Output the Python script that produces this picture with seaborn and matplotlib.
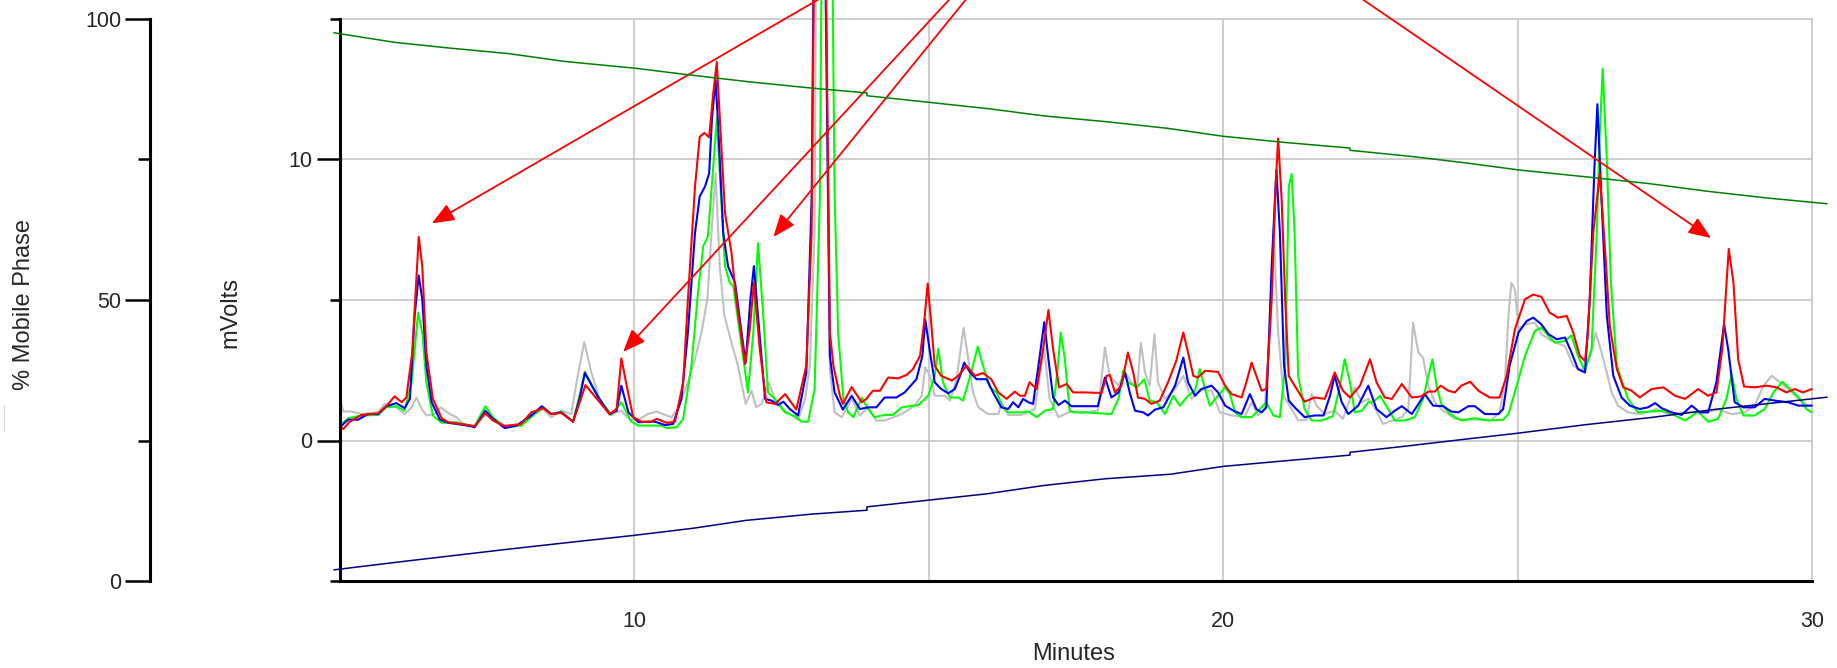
import matplotlib
matplotlib.use("Agg")
import matplotlib.pyplot as plt
import seaborn as sns
from matplotlib.lines import Line2D

sns.set_style("white")
plt.rcParams['font.family'] = ['Liberation Sans', 'DejaVu Sans']

# ---------------- data ----------------
red_t = [5.00, 5.06, 5.17, 5.37, 5.65, 5.79, 5.93, 6.05, 6.13, 6.23, 6.34, 6.40, 6.47, 6.58, 6.73, 6.84,
         7.18, 7.29, 7.47, 7.60, 7.80, 8.08, 8.25, 8.45, 8.59, 8.76, 8.96, 9.08, 9.17, 9.39, 9.58, 9.70,
         9.78, 9.87, 9.98, 10.12, 10.29, 10.38, 10.55, 10.69, 10.83, 10.91, 11.03, 11.11, 11.19, 11.27,
         11.34, 11.40, 11.45, 11.54, 11.65, 11.73, 11.88, 11.96, 12.03, 12.13, 12.24, 12.39, 12.56, 12.75,
         12.92, 13.01, 13.14, 13.32, 13.38, 13.49, 13.54, 13.69, 13.86, 13.94, 14.05, 14.17, 14.31, 14.48,
         14.62, 14.73, 14.85, 14.92, 14.98, 15.03, 15.10, 15.21, 15.39, 15.50, 15.64, 15.78, 15.92, 16.06,
         16.18, 16.32, 16.46, 16.55, 16.63, 16.71, 16.83, 16.94, 17.03, 17.11, 17.21, 17.34, 17.45, 17.65,
         17.93, 18.02, 18.07, 18.16, 18.27, 18.38, 18.47, 18.55, 18.67, 18.78, 18.92, 19.06, 19.20, 19.32,
         19.40, 19.49, 19.57, 19.69, 19.91, 20.03, 20.14, 20.31, 20.39, 20.48, 20.56, 20.65, 20.73, 20.82,
         20.89, 20.93, 20.99, 21.05, 21.11, 21.21, 21.38, 21.55, 21.72, 21.81, 21.89, 22.03, 22.15, 22.32,
         22.49, 22.60, 22.74, 22.86, 23.03, 23.20, 23.36, 23.48, 23.59, 23.69, 23.82, 23.93, 24.04, 24.19,
         24.33, 24.52, 24.69, 24.81, 24.95, 25.12, 25.26, 25.40, 25.54, 25.68, 25.83, 25.94, 26.05, 26.14,
         26.19, 26.28, 26.39, 26.48, 26.56, 26.68, 26.79, 26.93, 27.07, 27.27, 27.47, 27.67, 27.84, 28.06,
         28.23, 28.37, 28.47, 28.58, 28.66, 28.74, 28.84, 29.02, 29.22, 29.39, 29.56, 29.70, 29.84, 29.99]
red_mv = [0.47, 0.41, 0.67, 0.91, 0.97, 1.22, 1.57, 1.36, 1.53, 3.13, 7.24, 6.20, 3.13, 1.48, 0.79, 0.65,
          0.55, 0.51, 0.97, 0.71, 0.51, 0.59, 1.00, 1.15, 0.94, 0.98, 0.67, 1.40, 1.97, 1.42, 0.94, 1.12,
          2.92, 1.95, 0.83, 0.67, 0.67, 0.77, 0.63, 0.67, 2.07, 5.02, 9.03, 10.80, 10.94, 10.78,
          12.34, 13.46, 11.51, 8.09, 6.67, 5.02, 2.72, 3.96, 5.61, 3.25, 1.36, 1.30, 1.65, 1.10,
          2.66, 7.38, 38.0, 3.84, 2.66, 1.59, 1.30, 1.90, 1.36, 1.48, 1.77, 1.77, 2.24, 2.21,
          2.33, 2.54, 3.01, 4.19, 5.58, 4.43, 2.66, 2.30, 2.13, 2.30, 2.66, 2.30, 2.40, 2.18,
          1.71, 1.48, 1.74, 1.59, 1.59, 2.07, 1.83, 3.25, 4.64, 3.25, 1.89, 2.01, 1.71, 1.71,
          1.69, 2.30, 2.33, 1.71, 1.95, 3.13, 2.42, 1.53, 1.48, 1.30, 1.42, 2.07, 2.83, 3.84,
          3.13, 2.30, 2.24, 2.48, 2.44, 1.95, 1.65, 1.53, 2.07, 2.77, 2.30, 1.77, 1.83, 5.02,
          9.15, 10.74, 8.56, 5.02, 2.30, 1.95, 1.38, 1.53, 1.48, 1.95, 2.42, 1.77, 1.53, 1.95,
          2.89, 2.07, 1.53, 1.48, 2.01, 1.53, 1.57, 1.74, 1.74, 1.95, 1.77, 1.71, 1.95, 2.09,
          1.77, 1.53, 1.53, 2.30, 3.96, 5.02, 5.19, 5.11, 4.55, 4.37, 4.43, 3.84, 3.01, 2.83,
          3.84, 7.38, 9.50, 6.79, 4.07, 2.54, 1.89, 1.77, 1.53, 1.83, 1.89, 1.59, 1.48, 1.83,
          1.59, 1.71, 3.25, 6.81, 5.61, 2.89, 1.92, 1.89, 1.95, 1.89, 1.71, 1.83, 1.71, 1.83]

blue_t = [5.00, 5.14, 5.31, 5.48, 5.65, 5.79, 5.96, 6.10, 6.19, 6.27, 6.34, 6.40, 6.47, 6.56, 6.70, 6.84,
          7.18, 7.29, 7.47, 7.60, 7.80, 8.00, 8.25, 8.43, 8.59, 8.76, 8.96, 9.07, 9.16, 9.39, 9.58, 9.70,
          9.78, 9.90, 10.07, 10.35, 10.52, 10.66, 10.80, 10.91, 11.03, 11.11, 11.20, 11.27, 11.32, 11.38,
          11.43, 11.51, 11.59, 11.71, 11.82, 11.89, 11.97, 12.03, 12.10, 12.22, 12.33, 12.44, 12.53, 12.64,
          12.78, 12.92, 13.01, 13.13, 13.32, 13.40, 13.54, 13.69, 13.83, 13.97, 14.11, 14.25, 14.45, 14.59,
          14.79, 14.89, 14.94, 15.02, 15.10, 15.21, 15.33, 15.44, 15.53, 15.60, 15.70, 15.81, 15.98, 16.09,
          16.23, 16.35, 16.43, 16.52, 16.60, 16.69, 16.77, 16.86, 16.96, 17.03, 17.11, 17.20, 17.31, 17.42,
          17.65, 17.87, 17.99, 18.10, 18.22, 18.33, 18.41, 18.50, 18.64, 18.72, 18.84, 18.98, 19.18, 19.32,
          19.40, 19.52, 19.63, 19.80, 19.91, 20.03, 20.17, 20.31, 20.45, 20.56, 20.65, 20.73, 20.82, 20.90,
          20.96, 21.03, 21.11, 21.21, 21.38, 21.55, 21.70, 21.81, 21.89, 22.01, 22.12, 22.29, 22.46, 22.60,
          22.77, 22.91, 23.03, 23.20, 23.42, 23.56, 23.73, 23.87, 23.99, 24.16, 24.27, 24.44, 24.67, 24.75,
          24.86, 25.01, 25.15, 25.26, 25.40, 25.52, 25.66, 25.80, 25.91, 26.02, 26.14, 26.22, 26.30, 26.35,
          26.42, 26.51, 26.62, 26.76, 26.90, 27.07, 27.21, 27.33, 27.44, 27.61, 27.78, 27.95, 28.09, 28.23,
          28.37, 28.50, 28.57, 28.68, 28.83, 29.02, 29.19, 29.36, 29.59, 29.76, 29.99]
blue_mv = [0.47, 0.74, 0.74, 0.94, 0.94, 1.22, 1.33, 1.15, 1.48, 4.43, 5.87, 5.02, 2.66, 1.36, 0.74, 0.63,
           0.53, 0.47, 1.06, 0.77, 0.44, 0.53, 0.89, 1.22, 0.94, 1.00, 0.67, 1.48, 2.40, 1.53, 0.94, 1.06,
           1.95, 1.00, 0.65, 0.67, 0.55, 0.59, 1.48, 3.84, 7.38, 8.68, 9.03, 9.50, 11.51, 12.81,
           10.92, 7.38, 6.20, 5.61, 3.84, 2.77, 5.02, 6.20, 4.43, 1.48, 1.42, 1.26, 1.38, 1.12,
           0.89, 2.42, 8.56, 38.0, 3.00, 1.71, 1.10, 1.59, 1.12, 1.18, 1.18, 1.53, 1.53, 1.71,
           2.18, 3.01, 4.29, 3.13, 2.07, 1.83, 1.68, 1.83, 2.30, 2.77, 2.42, 2.18, 2.18, 1.71,
           1.18, 1.12, 1.36, 1.18, 1.48, 1.36, 1.30, 2.66, 4.21, 2.89, 1.53, 1.26, 1.42, 1.22,
           1.22, 1.22, 2.24, 1.53, 1.71, 2.42, 1.71, 1.06, 1.00, 0.89, 1.10, 1.18, 1.95, 2.95,
           2.07, 1.59, 1.83, 1.95, 1.71, 1.24, 1.06, 0.94, 1.65, 1.12, 1.00, 1.18, 6.20, 9.62,
           7.38, 2.66, 1.42, 1.18, 0.83, 0.89, 0.89, 1.59, 2.30, 1.36, 0.94, 1.24, 1.95, 1.12,
           0.83, 1.06, 1.22, 0.94, 1.65, 1.24, 1.22, 1.03, 1.00, 1.22, 1.22, 0.94, 0.94, 1.12,
           2.66, 3.84, 4.25, 4.37, 4.13, 3.78, 3.60, 3.66, 3.13, 2.54, 2.42, 5.02, 9.74, 11.96,
           8.56, 4.43, 2.30, 1.53, 1.24, 1.12, 1.18, 1.33, 1.15, 1.00, 0.91, 1.24, 1.00, 1.00,
           2.07, 4.13, 3.25, 1.36, 1.18, 1.18, 1.48, 1.42, 1.36, 1.24, 1.24]

green_t = [5.00, 5.14, 5.37, 5.65, 5.79, 5.96, 6.10, 6.22, 6.33, 6.40, 6.47, 6.58, 6.73, 6.95, 7.18, 7.29,
           7.47, 7.60, 7.80, 8.08, 8.28, 8.45, 8.59, 8.76, 8.96, 9.07, 9.16, 9.39, 9.61, 9.78, 9.95, 10.07,
           10.46, 10.55, 10.72, 10.83, 10.97, 11.08, 11.17, 11.25, 11.34, 11.40, 11.45, 11.54, 11.62, 11.68,
           11.79, 11.93, 12.02, 12.10, 12.19, 12.27, 12.36, 12.56, 12.73, 12.84, 12.95, 13.06, 13.15, 13.26,
           13.40, 13.46, 13.55, 13.63, 13.72, 13.86, 13.97, 14.08, 14.25, 14.39, 14.54, 14.82, 14.99, 15.10,
           15.16, 15.24, 15.36, 15.50, 15.58, 15.72, 15.83, 15.92, 16.04, 16.15, 16.26, 16.35, 16.57, 16.69,
           16.83, 16.97, 17.11, 17.18, 17.24, 17.31, 17.39, 17.48, 17.65, 18.10, 18.22, 18.30, 18.38, 18.53,
           18.66, 18.75, 18.87, 19.01, 19.15, 19.26, 19.40, 19.52, 19.60, 19.69, 19.77, 19.91, 20.03, 20.11,
           20.20, 20.31, 20.48, 20.62, 20.73, 20.85, 20.96, 21.05, 21.11, 21.16, 21.21, 21.27, 21.38, 21.50,
           21.67, 21.86, 21.98, 22.06, 22.15, 22.23, 22.35, 22.46, 22.54, 22.66, 22.80, 22.91, 23.08, 23.25,
           23.39, 23.48, 23.55, 23.62, 23.70, 23.85, 24.04, 24.27, 24.50, 24.75, 24.84, 24.98, 25.12, 25.29,
           25.40, 25.52, 25.63, 25.80, 25.91, 26.02, 26.14, 26.25, 26.34, 26.39, 26.44, 26.51, 26.58, 26.68,
           26.87, 27.04, 27.27, 27.47, 27.67, 27.84, 28.06, 28.23, 28.40, 28.54, 28.63, 28.71, 28.83, 29.02,
           29.19, 29.34, 29.49, 29.65, 29.79, 29.90, 29.99]
green_mv = [0.53, 0.79, 0.89, 0.91, 1.18, 1.22, 1.06, 2.07, 4.55, 3.84, 2.07, 0.89, 0.63, 0.65, 0.55, 0.51,
            1.22, 0.83, 0.47, 0.53, 0.89, 1.18, 0.94, 1.03, 0.67, 1.59, 2.45, 1.53, 0.91, 1.36, 0.67, 0.53,
            0.53, 0.44, 0.47, 0.77, 2.66, 5.25, 6.91, 7.26, 9.74, 11.45, 9.50, 6.20, 5.61, 5.49,
            3.84, 1.71, 3.84, 7.02, 4.43, 1.71, 1.53, 1.00, 0.86, 0.67, 0.67, 1.80, 8.56, 40.0,
            8.80, 3.84, 1.48, 1.00, 0.83, 1.53, 1.12, 0.83, 0.91, 0.91, 1.18, 1.26, 1.59, 2.30,
            3.27, 2.07, 1.53, 1.53, 1.42, 2.42, 3.34, 2.66, 1.89, 1.71, 1.18, 1.00, 1.00, 1.03,
            0.83, 1.06, 1.12, 2.42, 3.84, 2.89, 1.06, 1.00, 1.00, 0.94, 1.48, 2.48, 2.07, 1.89,
            2.18, 1.42, 1.36, 0.94, 1.59, 1.24, 1.59, 1.77, 2.54, 1.83, 1.24, 1.59, 1.89, 1.65,
            1.00, 0.83, 0.83, 1.12, 1.36, 0.89, 0.83, 2.66, 9.03, 9.48, 7.38, 2.30, 1.12, 0.71,
            0.71, 0.86, 1.95, 2.89, 2.07, 1.00, 1.06, 1.36, 1.36, 1.59, 1.12, 0.71, 0.71, 0.83,
            1.48, 2.30, 2.89, 1.95, 1.30, 0.94, 0.71, 0.79, 0.71, 0.74, 0.94, 1.95, 3.01, 3.90,
            4.01, 3.72, 3.48, 3.54, 3.74, 3.01, 2.48, 3.25, 7.38, 10.92, 13.22, 9.98, 5.61, 2.66,
            1.48, 1.00, 1.03, 1.06, 0.89, 0.71, 1.03, 0.67, 0.77, 1.48, 2.36, 1.48, 0.89, 0.89,
            1.12, 1.71, 2.09, 1.77, 1.48, 1.12, 1.00]

gray_t = [5.00, 5.06, 5.20, 5.37, 5.65, 5.76, 5.96, 6.10, 6.22, 6.30, 6.39, 6.47, 6.61, 6.71, 6.87, 6.98,
          7.12, 7.29, 7.49, 7.63, 7.80, 8.08, 8.31, 8.45, 8.59, 8.76, 8.93, 9.02, 9.15, 9.27, 9.41, 9.58,
          9.78, 9.92, 10.09, 10.23, 10.38, 10.52, 10.63, 10.74, 10.89, 11.03, 11.14, 11.24, 11.31, 11.38,
          11.45, 11.53, 11.65, 11.76, 11.89, 11.99, 12.07, 12.16, 12.28, 12.39, 12.56, 12.78, 12.90, 12.98,
          13.06, 13.13, 13.32, 13.40, 13.52, 13.69, 13.83, 13.97, 14.11, 14.25, 14.54, 14.76, 14.88, 14.94,
          15.02, 15.10, 15.27, 15.36, 15.47, 15.59, 15.67, 15.75, 15.84, 16.01, 16.18, 16.23, 16.35, 16.57,
          16.80, 16.91, 16.96, 17.05, 17.20, 17.37, 17.65, 17.87, 17.99, 18.07, 18.22, 18.33, 18.44, 18.54,
          18.60, 18.67, 18.75, 18.83, 18.89, 19.01, 19.18, 19.32, 19.46, 19.60, 19.80, 19.94, 20.14, 20.36,
          20.48, 20.59, 20.70, 20.79, 20.86, 20.93, 21.02, 21.16, 21.27, 21.41, 21.50, 21.58, 21.72, 21.89,
          22.03, 22.15, 22.23, 22.35, 22.46, 22.60, 22.71, 22.88, 23.03, 23.14, 23.22, 23.31, 23.39, 23.48,
          23.59, 23.73, 23.93, 24.27, 24.55, 24.69, 24.78, 24.84, 24.89, 24.95, 25.01, 25.12, 25.29, 25.40,
          25.57, 25.80, 25.94, 26.08, 26.25, 26.32, 26.39, 26.51, 26.59, 26.70, 26.87, 27.10, 27.35, 27.55,
          27.84, 28.18, 28.40, 28.63, 28.85, 29.02, 29.17, 29.31, 29.45, 29.59, 29.76, 29.93]
gray_mv = [1.48, 1.03, 1.03, 0.94, 1.00, 1.30, 1.18, 0.94, 1.18, 1.53, 1.12, 0.89, 0.94, 1.18, 0.94, 0.83,
           0.53, 0.51, 1.00, 0.74, 0.55, 0.55, 0.94, 1.12, 0.83, 1.06, 0.94, 2.07, 3.50, 2.42, 1.48, 0.91,
           1.06, 0.74, 0.77, 0.94, 1.03, 0.91, 0.83, 1.12, 1.95, 2.89, 3.84, 5.02, 7.38, 9.50,
           6.20, 4.43, 3.48, 2.66, 1.30, 1.77, 1.18, 1.30, 2.07, 1.48, 1.06, 0.74, 1.48, 2.66,
           7.38, 36.0, 2.50, 1.00, 0.83, 1.48, 0.89, 1.18, 0.71, 0.71, 0.94, 1.24, 1.59, 2.60,
           2.30, 1.59, 1.59, 1.42, 2.18, 4.01, 2.89, 1.71, 1.18, 0.94, 0.94, 1.30, 0.91, 0.91,
           1.12, 2.66, 3.25, 1.48, 0.83, 1.00, 1.00, 1.06, 3.31, 2.30, 1.95, 2.42, 2.07, 1.95,
           3.48, 2.42, 1.95, 3.78, 2.07, 1.48, 1.83, 2.30, 1.48, 1.83, 1.77, 1.00, 0.89, 0.83,
           1.36, 0.89, 1.12, 3.84, 7.14, 3.84, 1.59, 1.12, 0.71, 0.74, 1.65, 1.24, 0.94, 1.06,
           0.77, 1.48, 1.89, 1.36, 1.48, 1.06, 0.59, 0.71, 0.83, 1.12, 4.19, 3.13, 2.95, 1.95,
           1.36, 1.06, 0.77, 0.74, 0.74, 1.00, 2.07, 4.43, 5.61, 5.37, 3.96, 4.13, 4.19, 3.78,
           3.54, 3.36, 2.66, 2.48, 3.13, 3.84, 3.36, 2.42, 1.71, 1.24, 1.00, 0.94, 1.12, 0.94,
           1.00, 1.00, 1.10, 0.94, 1.00, 1.24, 1.95, 2.30, 2.07, 1.83, 1.48, 1.24]

# mobile phase gradient (%), two solvents
phaseA_t = [4.9, 5.93, 6.84, 7.86, 8.82, 10.01, 10.86, 11.93, 13.07, 13.95, 13.95, 15.03, 16.01, 16.97,
            18.0, 19.06, 19.99, 21.04, 22.15, 22.15, 23.2, 24.16, 25.02, 26.14, 27.21, 28.23, 29.25, 30.25]
phaseA_pct = [97.5, 95.8, 94.8, 93.8, 92.4, 91.2, 90.1, 88.8, 87.6, 86.8, 86.3, 85.1, 84.0, 82.7,
              81.7, 80.5, 79.1, 78.0, 77.0, 76.6, 75.5, 74.3, 73.1, 71.9, 70.7, 69.3, 68.1, 67.1]
phaseB_t = [4.9, 6.0, 7.88, 9.0, 9.97, 11.0, 11.9, 13.0, 13.95, 13.95, 15.0, 15.97, 16.95, 18.0, 19.1,
            20.0, 20.95, 22.15, 22.15, 23.1, 24.16, 25.0, 26.14, 27.27, 28.4, 30.25]
phaseB_pct = [2.0, 3.4, 5.7, 7.0, 8.1, 9.4, 10.8, 11.9, 12.6, 13.2, 14.4, 15.5, 17.0, 18.2, 19.0,
              20.4, 21.3, 22.4, 22.9, 24.0, 25.3, 26.3, 27.8, 29.1, 30.6, 32.7]

# annotation arrows: tip (minutes, mV) and entry point at top (minutes at 17 mV)
arrow_tip_t = [6.56, 9.81, 12.36, 28.28]
arrow_tip_mv = [7.72, 3.15, 7.24, 7.20]
arrow_from_t = [14.21, 15.93, 16.14, 21.45]
arrow_from_mv = [17.0, 17.0, 17.0, 17.0]

x_major = [10, 20, 30]
x_major_labels = ['10', '20', '30']
x_minor = [5, 15, 25]
mv_major = [0, 10]
mv_major_labels = ['0', '10']
mv_minor = [-5, 5, 15]
pct_major = [0, 50, 100]
pct_major_labels = ['0', '50', '100']
pct_minor = [25, 75]

# ---------------- figure ----------------
W, H = 1837, 668
fig = plt.figure(figsize=(W / 100, H / 100), dpi=100)
L, R, T, B = 339.8, 1812.4, 18.7, 581.1
ax = fig.add_axes([L / W, 1 - B / H, (R - L) / W, (B - T) / H])
ax2 = ax.twinx()

FS = 15.5
FS_TITLE = 17
GRID = '#c0c0c0'

traces = [(gray_t, gray_mv, '#c0c0c0'), (green_t, green_mv, '#00ff00'),
          (blue_t, blue_mv, '#0000ff'), (red_t, red_mv, '#ff0000')]
for tt, vv, col in traces:
    sns.lineplot(x=tt, y=vv, ax=ax, color=col, linewidth=1.5, estimator=None,
                 errorbar=None, sort=False, clip_on=False)

sns.lineplot(x=phaseA_t, y=phaseA_pct, ax=ax2, color='#008000', linewidth=1.1,
             estimator=None, errorbar=None, sort=False, clip_on=False)
sns.lineplot(x=phaseB_t, y=phaseB_pct, ax=ax2, color='#000080', linewidth=1.1,
             estimator=None, errorbar=None, sort=False, clip_on=False)

for xt, yt, xf, yf in zip(arrow_tip_t, arrow_tip_mv, arrow_from_t, arrow_from_mv):
    an = ax.annotate('', xy=(xt, yt), xytext=(xf, yf), annotation_clip=False, zorder=10,
                     arrowprops=dict(arrowstyle='-|>,head_length=0.55,head_width=0.22',
                                     color='#ff0000', lw=1.3, mutation_scale=25,
                                     shrinkA=0, shrinkB=0))
    an.arrow_patch.set_clip_on(False)

# main axes styling
ax.set_xlim(5, 30)
ax.set_ylim(-5, 15)
ax.set_xticks(x_major)
ax.set_xticklabels(x_major_labels)
ax.set_xticks(x_minor, minor=True)
ax.set_yticks(mv_major)
ax.set_yticklabels(mv_major_labels)
ax.set_yticks(mv_minor, minor=True)
ax.set_xlabel('')
ax.set_ylabel('')
ax.grid(True, which='both', color=GRID, linewidth=1.1)
ax.set_axisbelow(True)
for tk in ax.xaxis.get_major_ticks() + ax.xaxis.get_minor_ticks() + \
        ax.yaxis.get_major_ticks() + ax.yaxis.get_minor_ticks():
    tk.gridline.set_clip_on(False)
for s in ['top', 'right']:
    ax.spines[s].set_visible(False)
for s in ['left', 'bottom']:
    ax.spines[s].set_linewidth(2.2)
    ax.spines[s].set_color('black')
    ax.spines[s].set_zorder(5)
ax.tick_params(axis='y', which='major', length=16.5, width=1.8, direction='out',
               labelsize=FS, pad=3.5, color='black')
ax.tick_params(axis='y', which='minor', length=7.2, width=1.8, direction='out', color='black')
ax.tick_params(axis='x', which='major', length=13.5, width=1.8, direction='out',
               labelsize=FS, pad=8, color='black')
ax.tick_params(axis='x', which='minor', length=6, width=1.8, direction='out', color='black')

# % mobile phase axis
ax2.set_ylim(0, 100)
ax2.set_xlim(5, 30)
ax2.yaxis.tick_left()
ax2.yaxis.set_label_position('left')
for s in ['top', 'right', 'bottom']:
    ax2.spines[s].set_visible(False)
ax2.spines['left'].set_position(('axes', (150 - L) / (R - L)))
ax2.spines['left'].set_linewidth(2.2)
ax2.spines['left'].set_color('black')
ax2.set_yticks(pct_major)
ax2.set_yticklabels(pct_major_labels)
ax2.set_yticks(pct_minor, minor=True)
ax2.set_ylabel('')
ax2.set_xlabel('')
ax2.grid(False)
ax2.tick_params(axis='y', which='major', length=18, width=1.8, direction='out',
                labelsize=FS, pad=2.5, color='black')
ax2.tick_params(axis='y', which='minor', length=8.4, width=1.8, direction='out', color='black')

# axis titles
fig.text(24 / W, 1 - 305 / H, '% Mobile Phase', rotation=90, ha='center', va='center', fontsize=FS_TITLE)
fig.text(230 / W, 1 - 312 / H, 'mVolts', rotation=90, ha='center', va='center', fontsize=FS_TITLE)
fig.text(1074 / W, 1 - 654 / H, 'Minutes', ha='center', va='center', fontsize=FS_TITLE)

# faint mark at left edge present in the original
fig.add_artist(Line2D([4 / W, 4 / W], [1 - 405 / H, 1 - 431 / H], color='#d8d8d8', linewidth=1.0))

fig.savefig('out.png', dpi=100)
